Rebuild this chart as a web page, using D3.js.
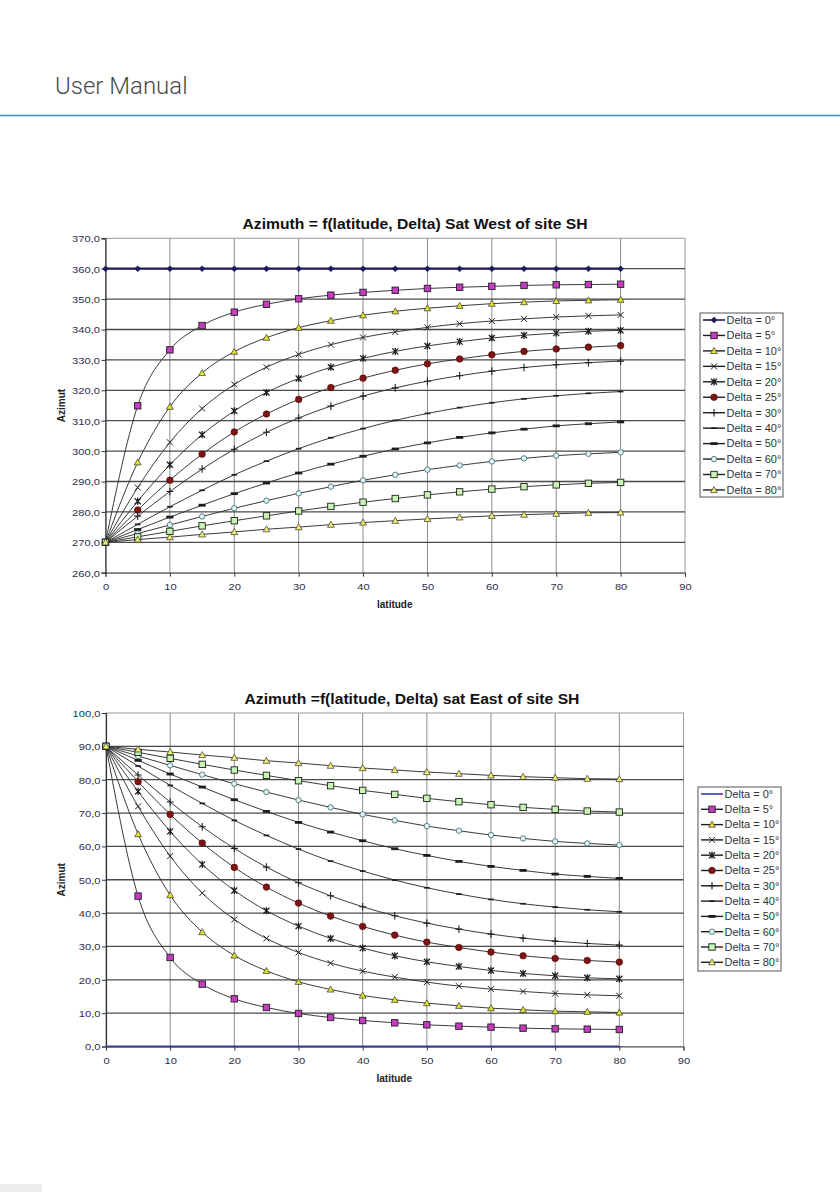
<!DOCTYPE html>
<html>
<head>
<meta charset="utf-8">
<script src="https://cdn.jsdelivr.net/npm/d3@7"></script>
<style>
  html, body { margin: 0; padding: 0; background: #ffffff; }
  svg { display: block; }
</style>
</head>
<body>
<svg id="page" width="840" height="1192"></svg>
<script>
// ---------------- DATA ----------------
const latitudes = [0, 5, 10, 15, 20, 25, 30, 35, 40, 45, 50, 55, 60, 65, 70, 75, 80];
const deltaLabels = ["Delta = 0°", "Delta = 5°", "Delta = 10°", "Delta = 15°", "Delta = 20°", "Delta = 25°",
                     "Delta = 30°", "Delta = 40°", "Delta = 50°", "Delta = 60°", "Delta = 70°", "Delta = 80°"];
const xTicks = [0, 10, 20, 30, 40, 50, 60, 70, 80, 90];
const westTicks = [260, 270, 280, 290, 300, 310, 320, 330, 340, 350, 360, 370];
const eastTicks = [0, 10, 20, 30, 40, 50, 60, 70, 80, 90, 100];

// Sat West of site SH
const westD0  = [360, 360, 360, 360, 360, 360, 360, 360, 360, 360, 360, 360, 360, 360, 360, 360, 360];
const westD5  = [270, 314.9, 333.3, 341.3, 345.7, 348.3, 350.1, 351.3, 352.2, 352.9, 353.5, 353.9, 354.2, 354.5, 354.7, 354.8, 354.9];
const westD10 = [270, 296.3, 314.6, 325.7, 332.7, 337.3, 340.6, 342.9, 344.7, 346.0, 347.0, 347.8, 348.5, 349.0, 349.4, 349.6, 349.8];
const westD15 = [270, 288.0, 302.9, 314.0, 321.9, 327.6, 331.8, 335.0, 337.4, 339.2, 340.7, 341.9, 342.8, 343.5, 344.1, 344.5, 344.8];
const westD20 = [270, 283.5, 295.5, 305.4, 313.2, 319.3, 323.9, 327.6, 330.5, 332.8, 334.6, 336.0, 337.2, 338.1, 338.8, 339.4, 339.7];
const westD25 = [270, 280.6, 290.4, 299.0, 306.3, 312.2, 317.0, 320.9, 324.0, 326.6, 328.7, 330.3, 331.7, 332.8, 333.6, 334.2, 334.7];
const westD30 = [270, 278.6, 286.7, 294.1, 300.6, 306.2, 310.9, 314.8, 318.1, 320.8, 323.0, 324.8, 326.3, 327.5, 328.4, 329.1, 329.6];
const westD40 = [270, 275.9, 281.7, 287.1, 292.2, 296.7, 300.8, 304.4, 307.4, 310.1, 312.4, 314.3, 315.9, 317.2, 318.2, 319.0, 319.6];
const westD50 = [270, 274.2, 278.3, 282.2, 286.0, 289.5, 292.8, 295.7, 298.3, 300.7, 302.7, 304.5, 306.0, 307.2, 308.3, 309.0, 309.6];
const westD60 = [270, 272.9, 275.7, 278.5, 281.2, 283.7, 286.1, 288.3, 290.4, 292.2, 293.9, 295.3, 296.6, 297.6, 298.5, 299.1, 299.6];
const westD70 = [270, 271.8, 273.6, 275.4, 277.1, 278.7, 280.3, 281.8, 283.2, 284.4, 285.6, 286.6, 287.5, 288.3, 288.9, 289.4, 289.7];
const westD80 = [270, 270.9, 271.7, 272.6, 273.4, 274.3, 275.0, 275.8, 276.5, 277.1, 277.7, 278.2, 278.7, 279.1, 279.4, 279.7, 279.8];

// Sat East of site SH
const eastD0  = [0, 0, 0, 0, 0, 0, 0, 0, 0, 0, 0, 0, 0, 0, 0, 0, 0];
const eastD5  = [90, 45.1, 26.7, 18.7, 14.3, 11.7, 9.9, 8.7, 7.8, 7.1, 6.5, 6.1, 5.8, 5.5, 5.3, 5.2, 5.1];
const eastD10 = [90, 63.7, 45.4, 34.3, 27.3, 22.7, 19.4, 17.1, 15.3, 14.0, 13.0, 12.2, 11.5, 11.0, 10.6, 10.4, 10.2];
const eastD15 = [90, 72.0, 57.1, 46.0, 38.1, 32.4, 28.2, 25.0, 22.6, 20.8, 19.3, 18.1, 17.2, 16.5, 15.9, 15.5, 15.2];
const eastD20 = [90, 76.5, 64.5, 54.6, 46.8, 40.7, 36.1, 32.4, 29.5, 27.2, 25.4, 24.0, 22.8, 21.9, 21.2, 20.6, 20.3];
const eastD25 = [90, 79.4, 69.6, 61.0, 53.7, 47.8, 43.0, 39.1, 36.0, 33.4, 31.3, 29.7, 28.3, 27.2, 26.4, 25.8, 25.3];
const eastD30 = [90, 81.4, 73.3, 65.9, 59.4, 53.8, 49.1, 45.2, 41.9, 39.2, 37.0, 35.2, 33.7, 32.5, 31.6, 30.9, 30.4];
const eastD40 = [90, 84.1, 78.3, 72.9, 67.8, 63.3, 59.2, 55.6, 52.6, 49.9, 47.6, 45.7, 44.1, 42.8, 41.8, 41.0, 40.4];
const eastD50 = [90, 85.8, 81.7, 77.8, 74.0, 70.5, 67.2, 64.3, 61.7, 59.3, 57.3, 55.5, 54.0, 52.8, 51.7, 51.0, 50.4];
const eastD60 = [90, 87.1, 84.3, 81.5, 78.8, 76.3, 73.9, 71.7, 69.6, 67.8, 66.1, 64.7, 63.4, 62.4, 61.5, 60.9, 60.4];
const eastD70 = [90, 88.2, 86.4, 84.6, 82.9, 81.3, 79.7, 78.2, 76.8, 75.6, 74.4, 73.4, 72.5, 71.7, 71.1, 70.6, 70.3];
const eastD80 = [90, 89.1, 88.3, 87.4, 86.6, 85.7, 85.0, 84.2, 83.5, 82.9, 82.3, 81.8, 81.3, 80.9, 80.6, 80.3, 80.2];

const westSeries = [westD0, westD5, westD10, westD15, westD20, westD25, westD30, westD40, westD50, westD60, westD70, westD80];
const eastSeries = [eastD0, eastD5, eastD10, eastD15, eastD20, eastD25, eastD30, eastD40, eastD50, eastD60, eastD70, eastD80];

// ---------------- STYLE ----------------
const markerTypes = ["diamond", "square", "triangle", "x", "star", "circle", "plus", "dash", "dashThick", "circleOpen", "square", "triangle"];
const markerFills = ["#1c1c5a", "#c43cc0", "#e2e22a", null, null, "#801414", null, null, null, "#d6fbfb", "#c8f5b4", "#f0f070"];

const svg = d3.select("#page");
const FONT = "'Liberation Sans', Arial, Helvetica, sans-serif";

// header
svg.append("text").attr("x", 55).attr("y", 94)
  .attr("font-family", "Roboto, 'Open Sans', sans-serif").attr("font-weight", 300)
  .attr("font-size", 24).attr("fill", "#4a4a4a").text("User Manual");
svg.append("line").attr("x1", 0).attr("x2", 840).attr("y1", 115.5).attr("y2", 115.5)
  .attr("stroke", "#2a8dd6").attr("stroke-width", 1.6);
svg.append("rect").attr("x", 0).attr("y", 1184).attr("width", 42).attr("height", 8).attr("fill", "#ececec");

function stretchedText(g, x, y, str, opts) {
  const t = g.append("text")
    .attr("transform", `translate(${x},${y}) scale(${opts.sx || 1},1)`)
    .attr("font-family", FONT)
    .attr("font-size", opts.size)
    .attr("font-weight", opts.weight || "normal")
    .attr("fill", opts.fill || "#222")
    .attr("text-anchor", opts.anchor || "start")
    .text(str);
  return t;
}

function drawMarker(g, type, fill, x, y) {
  const dark = "#1e1e1e";
  switch (type) {
    case "diamond":
      g.append("path").attr("d", `M${x},${y-3.3}L${x+3.3},${y}L${x},${y+3.3}L${x-3.3},${y}Z`).attr("fill", fill);
      break;
    case "square":
      g.append("rect").attr("x", x-3.2).attr("y", y-3.2).attr("width", 6.4).attr("height", 6.4)
        .attr("fill", fill).attr("stroke", dark).attr("stroke-width", 0.9);
      break;
    case "triangle":
      g.append("path").attr("d", `M${x},${y-3.4}L${x+3.4},${y+2.6}L${x-3.4},${y+2.6}Z`)
        .attr("fill", fill).attr("stroke", "#333").attr("stroke-width", 0.7);
      break;
    case "x":
      g.append("path").attr("d", `M${x-3},${y-3}L${x+3},${y+3}M${x-3},${y+3}L${x+3},${y-3}`)
        .attr("stroke", dark).attr("stroke-width", 1);
      break;
    case "star":
      g.append("path").attr("d", `M${x-3},${y-3}L${x+3},${y+3}M${x-3},${y+3}L${x+3},${y-3}M${x},${y-3.6}L${x},${y+3.6}`)
        .attr("stroke", dark).attr("stroke-width", 1.3);
      break;
    case "circle":
      g.append("circle").attr("cx", x).attr("cy", y).attr("r", 3.3).attr("fill", fill)
        .attr("stroke", "#3a0a0a").attr("stroke-width", 0.6);
      break;
    case "plus":
      g.append("path").attr("d", `M${x},${y-3.8}L${x},${y+3.8}M${x-3.5},${y}L${x+3.5},${y}`)
        .attr("stroke", dark).attr("stroke-width", 1.1);
      break;
    case "dash":
      g.append("path").attr("d", `M${x-2.8},${y}L${x+2.8},${y}`).attr("stroke", dark).attr("stroke-width", 1.7);
      break;
    case "dashThick":
      g.append("path").attr("d", `M${x-3.6},${y}L${x+3.6},${y}`).attr("stroke", dark).attr("stroke-width", 2.8);
      break;
    case "circleOpen":
      g.append("circle").attr("cx", x).attr("cy", y).attr("r", 2.7).attr("fill", fill)
        .attr("stroke", "#4a5a5a").attr("stroke-width", 0.8);
      break;
  }
}

function drawChart(cfg) {
  const g = svg.append("g");
  const x = d3.scaleLinear().domain([0, 90]).range([cfg.left, cfg.right]);
  const y = d3.scaleLinear().domain(cfg.yDomain).range([cfg.bottom, cfg.top]);
  const fmt = v => d3.format(".1f")(v).replace(".", ",");

  // plot border
  g.append("rect").attr("x", cfg.left).attr("y", cfg.top)
    .attr("width", cfg.right - cfg.left).attr("height", cfg.bottom - cfg.top)
    .attr("fill", "#ffffff").attr("stroke", "#9a9a9a").attr("stroke-width", 1);

  // vertical gridlines
  g.append("g").selectAll("line").data(xTicks.filter(d => d > 0 && d < 90)).join("line")
    .attr("x1", d => x(d)).attr("x2", d => x(d)).attr("y1", cfg.top).attr("y2", cfg.bottom)
    .attr("stroke", "#8c8c8c").attr("stroke-width", 1);
  // horizontal gridlines
  g.append("g").selectAll("line").data(cfg.yTicks.slice(1, -1)).join("line")
    .attr("x1", cfg.left).attr("x2", cfg.right).attr("y1", d => y(d)).attr("y2", d => y(d))
    .attr("stroke", "#4a4a4a").attr("stroke-width", 1.3);

  // axes
  const ya = g.append("g").attr("transform", `translate(${cfg.left},0)`)
    .call(d3.axisLeft(y).tickValues(cfg.yTicks).tickFormat(fmt).tickSize(4).tickPadding(2));
  ya.select(".domain").attr("stroke", "#333").attr("stroke-width", 1.2);
  ya.selectAll(".tick line").attr("stroke", "#333");
  ya.selectAll(".tick text").attr("font-family", FONT).attr("font-size", 9.8).attr("fill", "#2e2e4c")
    .attr("transform", "scale(1.14,1)").attr("x", -5.5 / 1.14).attr("dy", "0.34em");

  const xa = g.append("g").attr("transform", `translate(0,${cfg.bottom})`)
    .call(d3.axisBottom(x).tickValues(xTicks).tickFormat(d3.format("d")).tickSize(4).tickPadding(6.5));
  xa.select(".domain").attr("stroke", "#555").attr("stroke-width", 1);
  xa.selectAll(".tick line").attr("stroke", "#333");
  xa.selectAll(".tick text").attr("font-family", FONT).attr("font-size", 9.8).attr("fill", "#2e2e4c")
    .attr("transform", "scale(1.14,1)");

  // series
  const line = d3.line().x((d, i) => x(latitudes[i])).y(d => y(d)).curve(d3.curveMonotoneX);
  cfg.series.forEach((vals, si) => {
    if (si === 0) return;
    g.append("path").datum(vals).attr("d", line).attr("fill", "none")
      .attr("stroke", "#303030").attr("stroke-width", 0.95);
  });
  // delta 0 series
  g.append("path").datum(cfg.series[0]).attr("d", line).attr("fill", "none")
    .attr("stroke", cfg.zeroColor).attr("stroke-width", cfg.zeroWidth);

  // markers
  const mg = g.append("g");
  cfg.series.forEach((vals, si) => {
    if (si === 0 && !cfg.zeroMarkers) return;
    vals.forEach((v, i) => {
      drawMarker(mg, markerTypes[si], markerFills[si], x(latitudes[i]), y(v));
    });
  });

  // title & axis labels
  stretchedText(g, cfg.titleX, cfg.titleY, cfg.title, { size: 14, weight: "bold", anchor: "middle", sx: 1.12, fill: "#111" });
  stretchedText(g, (cfg.left + cfg.right) / 2 - 0.5, cfg.bottom + 35, "latitude", { size: 10, weight: "bold", anchor: "middle", fill: "#222" });
  g.append("text").attr("transform", `translate(${64.5},${(cfg.top + cfg.bottom) / 2}) rotate(-90)`)
    .attr("font-family", FONT).attr("font-size", 10).attr("font-weight", "bold").attr("fill", "#222")
    .attr("text-anchor", "middle").text("Azimut");

  // legend
  const lg = g.append("g");
  lg.append("rect").attr("x", cfg.legX).attr("y", cfg.legY)
    .attr("width", 83).attr("height", cfg.legH)
    .attr("fill", "#ffffff").attr("stroke", "#555").attr("stroke-width", 1);
  deltaLabels.forEach((lab, si) => {
    const cy = cfg.legY + 7 + si * cfg.legStep;
    const x0 = cfg.legX + 3, x1 = cfg.legX + 25;
    lg.append("line").attr("x1", x0).attr("x2", x1).attr("y1", cy).attr("y2", cy)
      .attr("stroke", si === 0 ? cfg.zeroColor : "#1e1e1e").attr("stroke-width", si === 0 ? 1.6 : 1.4);
    if (si > 0 || cfg.zeroMarkers) drawMarker(lg, markerTypes[si], markerFills[si], (x0 + x1) / 2, cy);
    stretchedText(lg, cfg.legX + 26.5, cy + 3.8, lab, { size: 11, fill: "#333" });
  });
}

drawChart({
  left: 105.5, right: 685, top: 238.3, bottom: 572.7,
  yDomain: [260, 370], yTicks: westTicks, series: westSeries,
  zeroColor: "#1e1e52", zeroWidth: 2.2, zeroMarkers: true,
  title: "Azimuth = f(latitude, Delta) Sat West of site SH", titleX: 415, titleY: 228.5,
  legX: 700, legY: 313, legH: 184, legStep: 15.45
});

drawChart({
  left: 106, right: 683.5, top: 713, bottom: 1046.5,
  yDomain: [0, 100], yTicks: eastTicks, series: eastSeries,
  zeroColor: "#3c3ca2", zeroWidth: 2, zeroMarkers: false,
  title: "Azimuth =f(latitude, Delta) sat East of site SH", titleX: 412, titleY: 704,
  legX: 698, legY: 787, legH: 184, legStep: 15.3
});
</script>
</body>
</html>
